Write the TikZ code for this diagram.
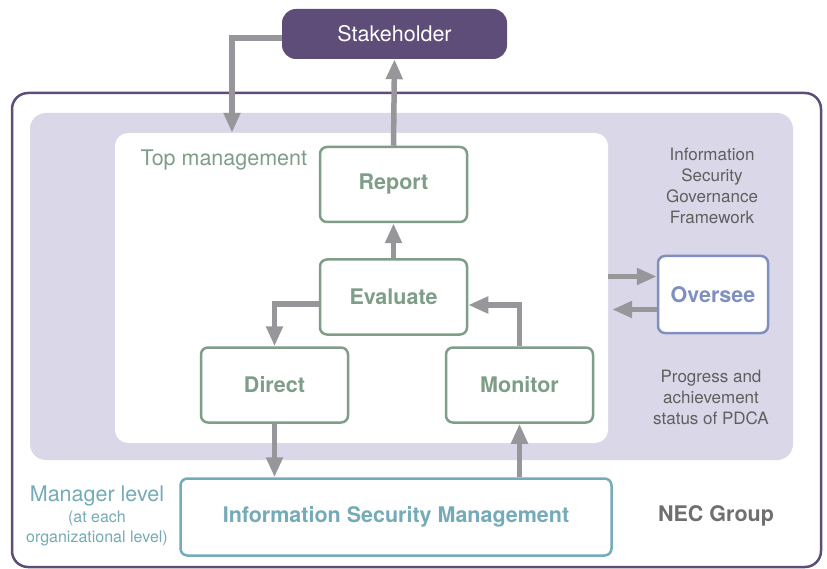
\documentclass[tikz,border=0pt]{standalone}
\usepackage{fontspec}
\setmainfont{TeX Gyre Heros}
\usetikzlibrary{arrows.meta}
\definecolor{darkpurple}{HTML}{5D4D78}
\definecolor{lavender}{HTML}{DAD7E8}
\definecolor{topgreen}{HTML}{7E9E87}
\definecolor{overblue}{HTML}{7F90C0}
\definecolor{mgrteal}{HTML}{75ABB8}
\definecolor{arrowgray}{HTML}{97979B}
\definecolor{textgray}{HTML}{5F5F5F}
\tikzstyle{Stake}=[minimum width=225pt, minimum height=50pt, rounded corners=14pt, fill=darkpurple, text=white, font=\fontsize{21.5}{26}\selectfont]
\tikzstyle{Group}=[minimum width=809pt, minimum height=474pt, rounded corners=16pt, line width=2.5pt, draw=darkpurple, fill=white]
\tikzstyle{Framework}=[minimum width=763pt, minimum height=347pt, rounded corners=16pt, fill=lavender]
\tikzstyle{Panel}=[minimum width=493pt, minimum height=310pt, rounded corners=13pt, fill=white]
\tikzstyle{Top}=[minimum width=147pt, minimum height=75pt, rounded corners=7pt, line width=2.5pt, draw=topgreen, fill=white, text=topgreen, font=\fontsize{21.5}{26}\selectfont\bfseries]
\tikzstyle{Over}=[minimum width=110pt, minimum height=77pt, rounded corners=7pt, line width=2.5pt, draw=overblue, fill=white, text=overblue, font=\fontsize{21.5}{26}\selectfont\bfseries]
\tikzstyle{Manager}=[minimum width=431pt, minimum height=77pt, rounded corners=7pt, line width=2.5pt, draw=mgrteal, fill=white, text=mgrteal, font=\fontsize{21.5}{26}\selectfont\bfseries]
\tikzstyle{note}=[align=center, text=textgray, font=\fontsize{17}{21}\selectfont]
\tikzstyle{arrow}=[line width=5.5pt, draw=arrowgray, -{Triangle[length=20pt, width=16pt]}]
\pgfdeclarelayer{panellayer}
\pgfsetlayers{panellayer, main}

\begin{document}
\begin{tikzpicture}[x=1pt, y=-1pt]
	\useasboundingbox (0,0) rectangle (827,569);
	\begin{pgfonlayer}{panellayer}
		\node [style=Group] (group) at (416.5, 330) {};
		\node [style=Framework] (framework) at (411.5, 286.5) {};
		\node [style=Panel] (top) at (361.5, 288) {};
	\end{pgfonlayer}
	% boxes
	\node [style=Stake] (stakeholder) at (394.5, 34) {Stakeholder};
	\node [style=Top] (report) at (393.5, 184.5) {Report};
	\node [style=Top] (evaluate) at (393.5, 297) {Evaluate};
	\node [style=Top] (direct) at (274.5, 385) {Direct};
	\node [style=Top] (monitor) at (519.5, 385) {Monitor};
	\node [style=Over] (oversee) at (713, 294.5) {Oversee};
	\node [style=Manager] (ism) at (396, 517) {Information Security Management};
	% labels
	\node [anchor=west, text=topgreen, font=\fontsize{21.5}{26}\selectfont] (toplabel) at (137, 160) {Top management};
	\node [style=note] (frameworklabel) at (712, 186) {Information\\Security\\Governance\\Framework};
	\node [style=note] (pdcalabel) at (711, 397) {Progress and\\achievement\\status of PDCA};
	\node [text=textgray!90, font=\fontsize{21.5}{26}\selectfont\bfseries] (neclabel) at (716, 516) {NEC Group};
	\node [text=mgrteal, font=\fontsize{21.5}{26}\selectfont] (mgrlabel) at (97, 496) {Manager level};
	\node [align=center, text=mgrteal, font=\fontsize{16}{20}\selectfont] (mgrsub) at (97, 528) {(at each\\organizational level)};
	% arrows
	\draw [style=arrow] ([yshift=-4pt]stakeholder.west) -| ([xshift=-129.5pt]top.north);
	\draw [style=arrow] (report.north) -- (stakeholder.south);
	\draw [style=arrow] (evaluate.north) -- (report.south);
	\draw [style=arrow] ([yshift=-7pt]evaluate.west) -| (direct.north);
	\draw [style=arrow] (monitor.north) |- ([yshift=-8pt]evaluate.east);
	\draw [style=arrow] (direct.south) -- (direct.south |- ism.north);
	\draw [style=arrow] (monitor.south |- ism.north) -- (monitor.south);
	% oversight
	\draw [style=arrow] ([yshift=18pt]oversee.west -| top.east) -- ([yshift=18pt]oversee.west);
	\draw [style=arrow] ([yshift=-15pt]oversee.west) -- ([yshift=-15pt, xshift=4pt]oversee.west -| top.east);
\end{tikzpicture}
\end{document}
